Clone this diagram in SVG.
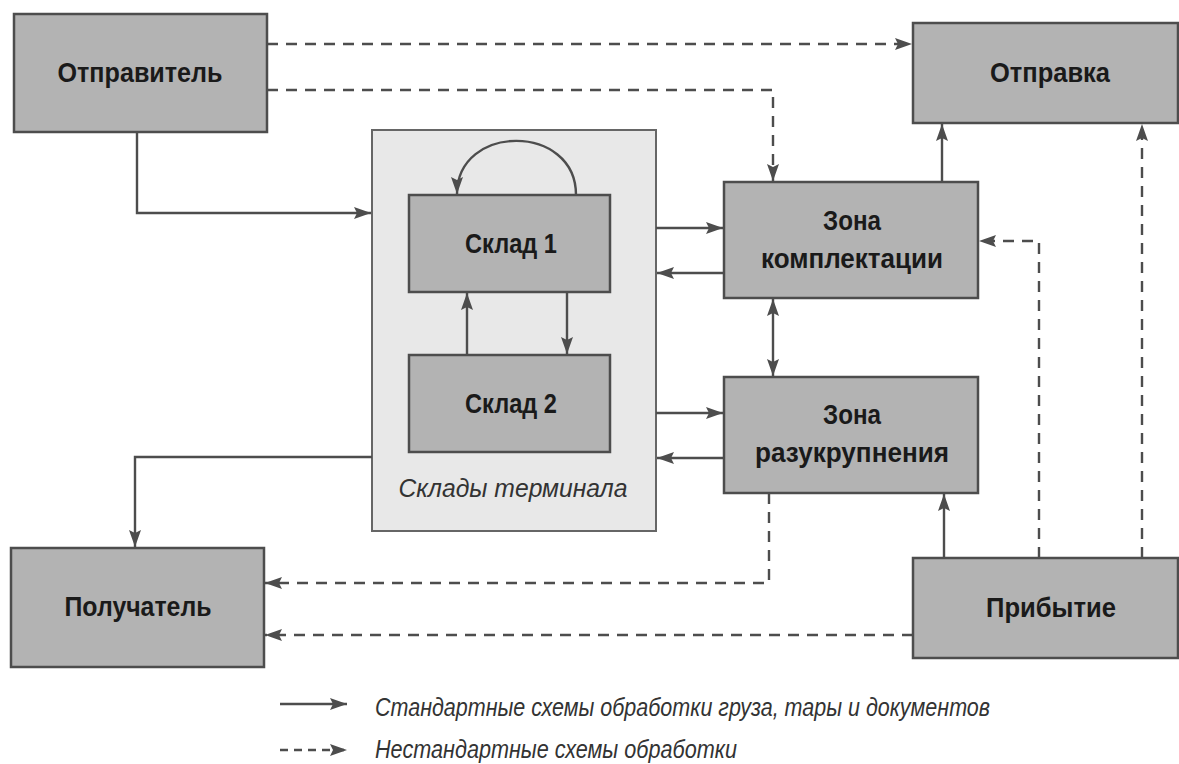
<svg xmlns="http://www.w3.org/2000/svg" width="1179" height="764" viewBox="0 0 1179 764">
<style>
.box{fill:#b3b3b3;stroke:#4d4d4d;stroke-width:2.5}
.term{fill:#e8e8e8;stroke:#666;stroke-width:2}
.lbl{font-family:"Liberation Sans",Arial,sans-serif;font-weight:bold;font-size:28px;fill:#1a1a1a;text-anchor:middle}
.it{font-family:"Liberation Sans",Arial,sans-serif;font-style:italic;font-size:26px;fill:#333}
.ln{fill:none;stroke:#4d4d4d;stroke-width:2.4}
.solid{marker-end:url(#ah)}
.dash{stroke-dasharray:11 8;marker-end:url(#ah)}
</style>
<defs>
<marker id="ah" markerUnits="userSpaceOnUse" markerWidth="17" markerHeight="12" refX="17" refY="6" orient="auto"><path d="M0,0 L17,6 L0,12 L3,6 z" fill="#4d4d4d"/></marker>
<marker id="ahs" markerUnits="userSpaceOnUse" markerWidth="17" markerHeight="12" refX="17" refY="6" orient="auto-start-reverse"><path d="M0,0 L17,6 L0,12 L3,6 z" fill="#4d4d4d"/></marker>
</defs>
<rect width="1179" height="764" fill="#fff"/>

<g id="terminal">
<rect class="term" x="372" y="130" width="284" height="401"/>
<text class="it" x="513" y="497" text-anchor="middle" textLength="229" lengthAdjust="spacingAndGlyphs">Склады терминала</text>
</g>

<g id="connectors">
<path class="ln dash" d="M267,44 H912"/>
<path class="ln dash" d="M267,90 H773 V181"/>
<path class="ln solid" d="M137,132 V213 H371"/>
<path class="ln solid" d="M372,457 H135 V547"/>
<path class="ln solid" d="M656,228 H723"/>
<path class="ln solid" d="M724,273 H657"/>
<path class="ln solid" d="M656,413 H723"/>
<path class="ln solid" d="M724,458 H657"/>
<path class="ln" d="M773,299 V376" marker-start="url(#ahs)" marker-end="url(#ahs)"/>
<path class="ln solid" d="M942,182 V124"/>
<path class="ln solid" d="M944,558 V494"/>
<path class="ln dash" d="M1039,558 V241 H979"/>
<path class="ln dash" d="M1142,558 V124"/>
<path class="ln dash" d="M769,493 V583 H265"/>
<path class="ln dash" d="M913,635 H265"/>
<path class="ln solid" d="M576,195 C576,123 457,123 457,194"/>
<path class="ln solid" d="M467,355 V293"/>
<path class="ln solid" d="M567,292 V354"/>
</g>

<g id="otpravitel">
<rect class="box" x="14" y="14" width="253" height="118"/>
<text class="lbl" x="140" y="82" textLength="165" lengthAdjust="spacingAndGlyphs">Отправитель</text>
</g>
<g id="otpravka">
<rect class="box" x="913" y="23" width="265" height="100"/>
<text class="lbl" x="1050" y="82" textLength="120" lengthAdjust="spacingAndGlyphs">Отправка</text>
</g>
<g id="sklad1">
<rect class="box" x="409" y="195" width="201" height="97"/>
<text class="lbl" x="511" y="253" textLength="92" lengthAdjust="spacingAndGlyphs">Склад 1</text>
</g>
<g id="sklad2">
<rect class="box" x="409" y="355" width="201" height="97"/>
<text class="lbl" x="511" y="413" textLength="92" lengthAdjust="spacingAndGlyphs">Склад 2</text>
</g>
<g id="zona-komplektacii">
<rect class="box" x="724" y="182" width="254" height="116"/>
<text class="lbl" x="852" y="230" textLength="58" lengthAdjust="spacingAndGlyphs">Зона</text>
<text class="lbl" x="852" y="268" textLength="182" lengthAdjust="spacingAndGlyphs">комплектации</text>
</g>
<g id="zona-razukrupneniya">
<rect class="box" x="724" y="377" width="254" height="116"/>
<text class="lbl" x="852" y="424" textLength="58" lengthAdjust="spacingAndGlyphs">Зона</text>
<text class="lbl" x="852" y="462" textLength="194" lengthAdjust="spacingAndGlyphs">разукрупнения</text>
</g>
<g id="poluchatel">
<rect class="box" x="11" y="548" width="253" height="119"/>
<text class="lbl" x="138" y="616" textLength="147" lengthAdjust="spacingAndGlyphs">Получатель</text>
</g>
<g id="pribytie">
<rect class="box" x="913" y="558" width="265" height="100"/>
<text class="lbl" x="1051" y="617" textLength="130" lengthAdjust="spacingAndGlyphs">Прибытие</text>
</g>

<g id="legend">
<path class="ln" d="M280,704 H347" marker-end="url(#ah)"/>
<text class="it" x="375" y="716" textLength="615" lengthAdjust="spacingAndGlyphs">Стандартные схемы обработки груза, тары и документов</text>
<path class="ln" d="M280,750 H347" stroke-dasharray="8 6" marker-end="url(#ah)"/>
<text class="it" x="375" y="758" textLength="362" lengthAdjust="spacingAndGlyphs">Нестандартные схемы обработки</text>
</g>
</svg>
